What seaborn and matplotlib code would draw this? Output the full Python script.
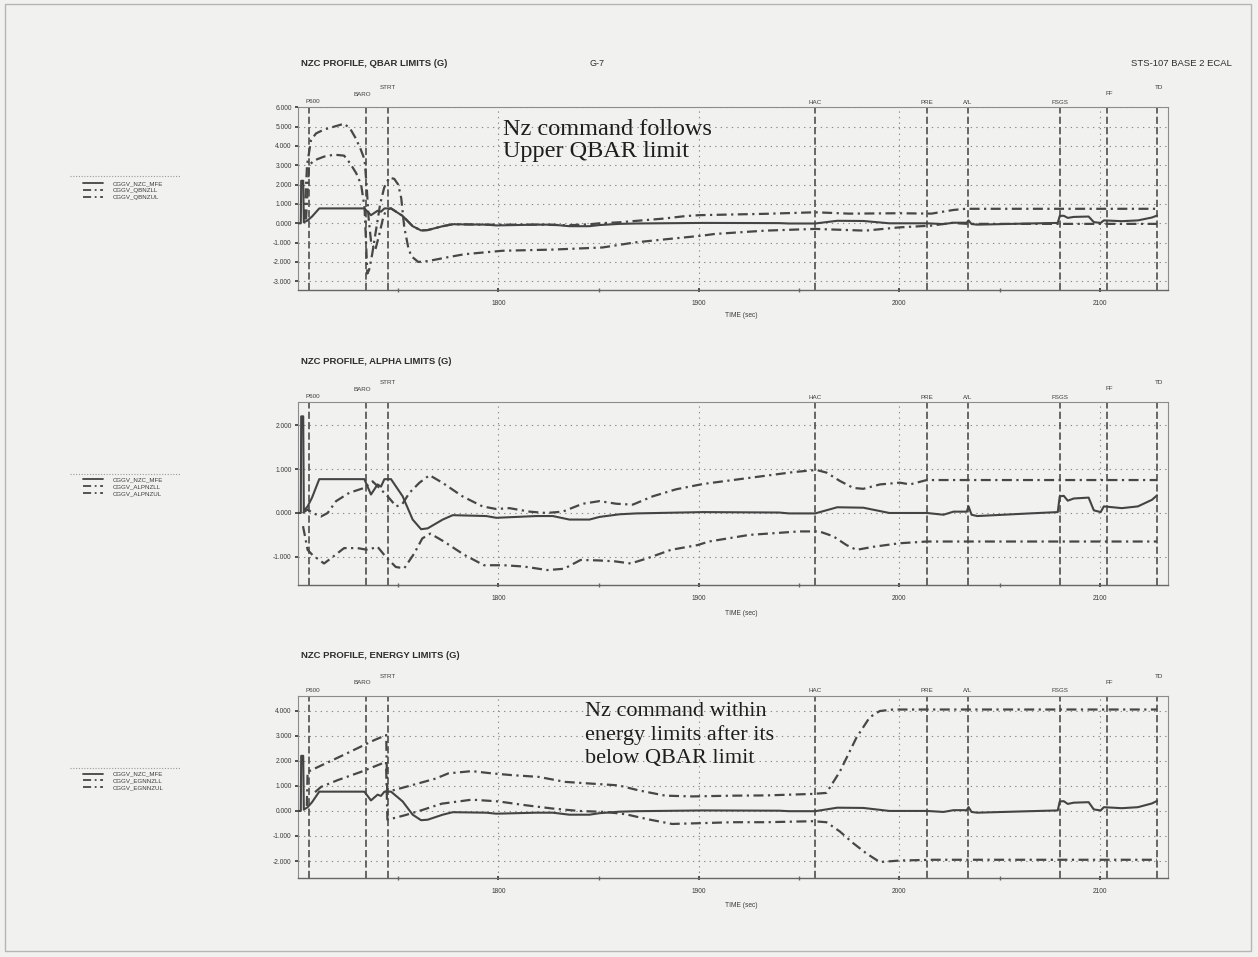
import numpy as np
import pandas as pd
import matplotlib
matplotlib.use("Agg")
import matplotlib.pyplot as plt
import matplotlib.transforms as mtransforms
from matplotlib.lines import Line2D
from matplotlib.patches import Rectangle
import seaborn as sns

# ---------------- data ----------------
event_names = ["P600", "BARO", "STRT", "HAC", "PRE", "A/L", "FSGS", "FF", "TD"]
event_times = [1705.6, 1734.1, 1744.8, 1957.8, 2013.7, 2034.2, 2080.1, 2103.5, 2128.5]

x_ticks = [1800, 1900, 2000, 2100]

# Nz command (same trace in the three panels)
time_mfe = [1700.0, 1701.4, 1701.6, 1702.6, 1702.9, 1704.8, 1707.0, 1710.6, 1733.1, 1736.4,
            1739.7, 1741.4, 1743.1, 1746.4, 1752.2, 1757.2, 1761.4, 1764.7, 1772.2, 1777.2,
            1793.9, 1798.9, 1818.8, 1827.1, 1835.4, 1845.4, 1850.4, 1860.4, 1868.7, 1902.0,
            1940.0, 1945.0, 1958.0, 1969.0, 1982.0, 1995.0, 2013.7, 2022.0, 2027.0, 2033.6,
            2034.5, 2036.0, 2038.8, 2065.0, 2079.0, 2080.0, 2082.0, 2084.0, 2087.0, 2094.4,
            2097.0, 2100.4, 2102.0, 2111.0, 2119.0, 2126.0, 2128.5]
nz_mfe = [0.0, 0.0, 2.2, 2.2, 0.05, 0.15, 0.35, 0.77, 0.77, 0.42,
          0.65, 0.6, 0.77, 0.77, 0.38, -0.15, -0.37, -0.35, -0.15, -0.05,
          -0.07, -0.11, -0.07, -0.07, -0.15, -0.15, -0.09, -0.03, -0.01, 0.02,
          0.01, -0.01, -0.01, 0.13, 0.12, 0.0, 0.0, -0.04, 0.03, 0.03,
          0.15, -0.04, -0.07, -0.01, 0.02, 0.38, 0.39, 0.28, 0.33, 0.35,
          0.06, 0.02, 0.15, 0.11, 0.15, 0.3, 0.4]

# QBAR limits
time_qb_ul = [1703.2, 1704.5, 1706.5, 1709.0, 1713.0, 1718.0, 1723.0, 1726.0, 1728.5, 1731.0,
              1733.2, 1734.2, 1735.2, 1736.5, 1738.5, 1740.5, 1742.5, 1744.0, 1746.4, 1752.2,
              1757.2, 1761.4, 1764.7, 1772.2, 1777.2, 1793.9, 1818.8, 1835.4, 1845.4, 1850.4,
              1860.0, 1868.0, 1882.0, 1893.0, 1900.0, 1933.0, 1958.0, 1975.0, 2000.0, 2016.0,
              2027.0, 2033.0, 2128.5]
qb_ul = [0.2, 3.0, 4.3, 4.65, 4.85, 5.0, 5.15, 4.9, 4.45, 3.9,
         3.3, 2.0, 0.3, -1.0, -1.4, -0.6, 0.3, 0.7, 0.77, 0.38,
         -0.15, -0.37, -0.35, -0.15, -0.05, -0.07, -0.07, -0.1, -0.05, 0.0,
         0.05, 0.12, 0.24, 0.37, 0.42, 0.49, 0.57, 0.5, 0.52, 0.5,
         0.69, 0.75, 0.75]
time_qb_ll = [1704.0, 1705.5, 1708.0, 1713.0, 1718.0, 1723.0, 1726.0, 1729.0, 1731.5, 1733.2,
              1734.6, 1735.5, 1737.0, 1739.0, 1741.0, 1743.0, 1745.5, 1748.0, 1750.0, 1751.5,
              1753.0, 1755.0, 1756.5, 1760.0, 1765.0, 1775.0, 1783.0, 1802.0, 1827.0, 1852.0,
              1868.0, 1885.0, 1901.6, 1908.0, 1933.0, 1958.0, 1983.0, 2000.0, 2016.0, 2026.0,
              2034.0, 2128.5]
qb_ll = [0.2, 3.0, 3.25, 3.45, 3.55, 3.5, 3.1, 2.6, 2.0, 0.8,
         -2.6, -2.4, -1.6, -0.3, 1.0, 1.85, 2.36, 2.3, 2.0, 1.3,
         -0.2, -1.25, -1.7, -2.0, -1.95, -1.75, -1.6, -1.42, -1.36, -1.25,
         -0.99, -0.81, -0.64, -0.55, -0.38, -0.29, -0.38, -0.21, -0.12, 0.02,
         -0.03, -0.03]

# ALPHA limits
time_alp_ul = [1702.3, 1704.8, 1707.3, 1711.5, 1714.8, 1719.0, 1725.6, 1733.0, 1737.2, 1740.6,
               1744.7, 1749.0, 1752.0, 1755.6, 1760.6, 1765.6, 1772.0, 1782.0, 1792.0, 1798.9,
               1805.5, 1815.5, 1823.8, 1832.0, 1842.0, 1850.4, 1858.8, 1867.0, 1877.0, 1888.7,
               1902.0, 1925.3, 1947.0, 1958.6, 1963.6, 1970.3, 1977.0, 1982.0, 1990.3, 2000.3,
               2005.3, 2013.6, 2128.5]
alp_ul = [0.0, 0.08, 0.0, -0.08, 0.0, 0.27, 0.46, 0.57, 0.72, 0.57,
          0.38, 0.15, 0.2, 0.46, 0.69, 0.86, 0.69, 0.38, 0.15, 0.09,
          0.11, 0.03, 0.0, 0.03, 0.21, 0.27, 0.21, 0.19, 0.38, 0.54,
          0.66, 0.8, 0.93, 0.98, 0.92, 0.73, 0.57, 0.55, 0.65, 0.69,
          0.65, 0.75, 0.75]
time_alp_ll = [1702.5, 1704.8, 1707.3, 1713.0, 1716.5, 1723.0, 1729.7, 1734.7, 1739.7, 1743.8,
               1748.8, 1753.0, 1758.0, 1762.0, 1766.0, 1772.8, 1782.8, 1792.8, 1802.7, 1812.7,
               1824.4, 1832.7, 1841.0, 1849.5, 1857.8, 1866.0, 1874.4, 1886.0, 1899.4, 1905.0,
               1925.0, 1950.0, 1960.0, 1967.0, 1973.6, 1978.6, 1987.0, 2000.0, 2013.6, 2128.5]
alp_ll = [-0.3, -0.84, -0.96, -1.15, -1.03, -0.8, -0.8, -0.84, -0.77, -1.0,
          -1.23, -1.26, -0.92, -0.58, -0.47, -0.65, -0.95, -1.19, -1.19, -1.22,
          -1.3, -1.27, -1.07, -1.08, -1.1, -1.15, -1.03, -0.84, -0.73, -0.65,
          -0.5, -0.42, -0.42, -0.53, -0.73, -0.84, -0.77, -0.69, -0.65, -0.65]

# ENERGY limits
time_egy_ul = [1704.4, 1704.8, 1723.1, 1738.1, 1744.0, 1744.5, 1756.9, 1768.6, 1775.0, 1786.7,
               1796.7, 1806.7, 1820.0, 1833.3, 1846.6, 1860.0, 1870.0, 1883.3, 1896.6, 1917.0,
               1933.6, 1956.9, 1963.6, 1970.3, 1978.6, 1985.2, 1990.2, 1996.9, 2128.5]
egy_ul = [0.2, 1.56, 2.25, 2.83, 3.03, 0.76, 1.03, 1.29, 1.5, 1.59,
          1.5, 1.43, 1.36, 1.16, 1.09, 1.02, 0.82, 0.61, 0.58, 0.61,
          0.62, 0.68, 0.72, 1.57, 2.93, 3.74, 3.99, 4.05, 4.05]
time_egy_ll = [1708.5, 1711.5, 1719.8, 1731.4, 1743.9, 1744.6, 1746.7, 1753.4, 1761.7, 1771.7,
               1786.7, 1800.0, 1813.3, 1826.6, 1840.0, 1853.3, 1863.3, 1875.0, 1886.6, 1900.0,
               1917.0, 1933.6, 1956.9, 1963.6, 1970.3, 1977.0, 1983.6, 1990.2, 2000.3, 2016.9,
               2128.5]
egy_ll = [0.75, 0.96, 1.23, 1.56, 1.96, -0.35, -0.31, -0.17, 0.03, 0.29,
          0.45, 0.38, 0.23, 0.1, 0.0, -0.04, -0.13, -0.34, -0.52, -0.49,
          -0.45, -0.45, -0.41, -0.45, -0.82, -1.29, -1.7, -2.04, -1.98, -1.95,
          -1.95]

panel_titles = ["NZC PROFILE, QBAR LIMITS (G)", "NZC PROFILE, ALPHA LIMITS (G)",
                "NZC PROFILE, ENERGY LIMITS (G)"]
legend_names = [["CGGV_NZC_MFE", "CGGV_QBNZLL", "CGGV_QBNZUL"],
                ["CGGV_NZC_MFE", "CGGV_ALPNZLL", "CGGV_ALPNZUL"],
                ["CGGV_NZC_MFE", "CGGV_EGNNZLL", "CGGV_EGNNZUL"]]
y_ticks = [[-3, -2, -1, 0, 1, 2, 3, 4, 5, 6], [-1, 0, 1, 2], [-2, -1, 0, 1, 2, 3, 4]]
notes = [["Nz command follows", "Upper QBAR limit"], None,
         ["Nz command within", "energy limits after its", "below QBAR limit"]]

# ---------------- styling ----------------
sns.set_theme(style="white")
plt.rcParams["font.family"] = ["Liberation Sans", "DejaVu Sans"]

W, H = 1258, 957
BG = "#f1f1f0"
INK = "#3c3c3c"
fig = plt.figure(figsize=(W / 100, H / 100), dpi=100, facecolor=BG)

def fx(px):
    return px / W

def fy(py):
    return 1 - py / H

# page frame of the scan
fig.add_artist(Rectangle((fx(5), fy(951)), fx(1251) - fx(5), fy(4) - fy(951),
                         transform=fig.transFigure, fill=False, ec="#b5b5b5", lw=1.0))

layout = [
    dict(top=107.3, bottom=290.0, ylim=(-3.45, 6.0), title_y=64, leg_top=181.0, leg_line=176.0,
         xlab_y=315, note_x=503, note_base=[135, 157], note_fs=17.5),
    dict(top=402.3, bottom=585.0, ylim=(-1.64, 2.52), title_y=362, leg_top=477.0, leg_line=474.0,
         xlab_y=613, note_x=None, note_base=None, note_fs=None),
    dict(top=696.0, bottom=878.3, ylim=(-2.69, 4.59), title_y=656, leg_top=771.5, leg_line=767.5,
         xlab_y=905, note_x=585, note_base=[716, 740, 763], note_fs=16),
]
limits = [((time_qb_ll, qb_ll), (time_qb_ul, qb_ul)),
          ((time_alp_ll, alp_ll), (time_alp_ul, alp_ul)),
          ((time_egy_ll, egy_ll), (time_egy_ul, egy_ul))]

# label offsets above the top spine (px): (dx, dy)
label_off = {"P600": (4, 6), "BARO": (-4, 13), "STRT": (0, 19.5), "HAC": (0, 5), "PRE": (0, 5),
             "A/L": (0, 5), "FSGS": (0, 5), "FF": (2, 14), "TD": (2, 20)}

dashdot = (0, (4.5, 2.0, 1.0, 2.0))
for i, lay in enumerate(layout):
    ax = fig.add_axes([fx(298), fy(lay["bottom"]), fx(1168) - fx(298),
                       (lay["bottom"] - lay["top"]) / H])
    ax.set_facecolor(BG)
    ax.set_xlim(1700, 2134)
    ax.set_ylim(*lay["ylim"])
    ax.set_xticks(x_ticks)
    ax.set_xticklabels([str(t) for t in x_ticks])
    ax.set_xticks([1750, 1850, 1950, 2050], minor=True)
    ax.set_yticks(y_ticks[i])
    ax.set_yticklabels([f"{v:.3f}" for v in y_ticks[i]])
    ax.grid(True, which="major", color="#8a8a8a", ls=(0, (1.2, 3.8)), lw=0.8)
    ax.set_axisbelow(True)
    for s in ax.spines.values():
        s.set_color("#8c8c8c")
        s.set_linewidth(0.8)
    ax.spines["bottom"].set_color("#666666")
    ax.spines["bottom"].set_linewidth(1.0)
    ax.tick_params(axis="y", which="major", labelsize=4.8, colors=INK, length=2.5,
                   direction="out", pad=2, left=True)
    ax.tick_params(axis="x", which="major", labelsize=4.8, colors=INK, length=2.5,
                   direction="inout", pad=6, bottom=True)
    ax.tick_params(axis="x", which="minor", length=3, direction="inout", color="#666666",
                   bottom=True)

    # event marker lines
    for t in event_times:
        ax.axvline(t, color="#474747", lw=1.15, ls=(0, (4.5, 2.0)), zorder=2)
    bt = mtransforms.blended_transform_factory(ax.transData, ax.transAxes)
    for name, t in zip(event_names, event_times):
        dx, dy = label_off[name]
        tr = mtransforms.offset_copy(bt, fig=fig, x=dx * 0.72, y=dy * 0.72, units="points")
        ax.text(t, 1.0, name, transform=tr, ha="center", va="center",
                fontsize=4.5, color=INK)

    (t_ll, v_ll), (t_ul, v_ul) = limits[i]
    sns.lineplot(x=t_ll, y=v_ll, ax=ax, color="#474747", lw=1.6, linestyle=dashdot,
                 sort=False, estimator=None, label=legend_names[i][1], zorder=3)
    sns.lineplot(x=t_ul, y=v_ul, ax=ax, color="#474747", lw=1.6, linestyle=dashdot,
                 sort=False, estimator=None, label=legend_names[i][2], zorder=3)
    sns.lineplot(x=time_mfe, y=nz_mfe, ax=ax, color="#444444", lw=1.5, linestyle="-",
                 sort=False, estimator=None, label=legend_names[i][0], zorder=4)

    ax.set_ylabel("")
    ax.set_xlabel("TIME (sec)", fontsize=4.8, color=INK)
    ax.xaxis.set_label_coords(0.51, -(lay["xlab_y"] - 3 - lay["bottom"]) /
                              (lay["bottom"] - lay["top"]))

    h, l = ax.get_legend_handles_labels()
    order = [2, 0, 1]
    leg = ax.legend([h[k] for k in order], [l[k] for k in order], loc="upper left",
                    bbox_to_anchor=(fx(83), fy(lay["leg_top"])), bbox_transform=fig.transFigure,
                    frameon=False, fontsize=4.4, handlelength=3.3, handletextpad=1.6,
                    labelspacing=0.25, borderpad=0, borderaxespad=0)
    for txt in leg.get_texts():
        txt.set_color(INK)
    for ln in leg.get_lines():
        ln.set_linewidth(1.3)
    fig.add_artist(Line2D([fx(70), fx(180)], [fy(lay["leg_line"])] * 2,
                          transform=fig.transFigure, color="#9a9a9a", lw=0.8,
                          ls=(0, (1, 1.5))))

    fig.text(fx(301), fy(lay["title_y"]), panel_titles[i], fontsize=6.8, color="#2e2e2e",
             ha="left", va="center", fontweight="bold")

    if notes[i] is not None:
        for line, base in zip(notes[i], lay["note_base"]):
            fig.text(fx(lay["note_x"]), fy(base), line, family=["Liberation Serif", "DejaVu Serif"],
                     fontsize=lay["note_fs"], color="#1e1e1e", ha="left", va="baseline")

fig.text(fx(590), fy(64), "G-7", fontsize=6.5, color="#2e2e2e", ha="left", va="center")
fig.text(fx(1232), fy(63), "STS-107 BASE 2 ECAL", fontsize=6.8, color="#2e2e2e",
         ha="right", va="center")

fig.savefig("out.png", dpi=100, facecolor=BG)
